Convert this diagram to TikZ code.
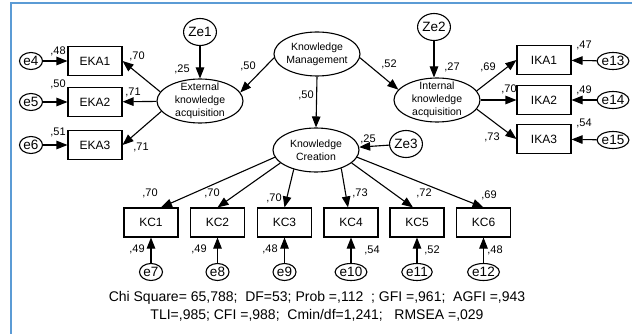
\documentclass[tikz,border=0pt]{standalone}
\usepackage{fontspec}
\setmainfont{Liberation Sans}
\usetikzlibrary{shapes.geometric,arrows.meta}
\definecolor{frameblue}{RGB}{91,155,213}
\tikzset{
  lat/.style={ellipse, draw, line width=1.1pt, minimum width=86pt, minimum height=44pt, inner sep=0pt},
  lattext/.style={align=center, inner sep=0pt, font=\fontsize{10.5}{13}\selectfont},
  obs/.style={rectangle, draw, line width=1.1pt, minimum width=54pt, minimum height=29pt, inner sep=0pt, font=\fontsize{12}{13}\selectfont},
  err/.style={ellipse, draw, line width=1.1pt, minimum width=23pt, minimum height=17pt, inner sep=0pt, font=\fontsize{13.5}{14}\selectfont},
  dist/.style={ellipse, draw, line width=1.1pt, minimum width=29pt, minimum height=27pt, inner sep=0pt, font=\fontsize{13.5}{14}\selectfont},
  lbl/.style={inner sep=0pt, font=\fontsize{11}{12}\selectfont},
  arr/.style={-{Triangle[length=11pt,width=8.5pt]}, line width=1.1pt},
}
\begin{document}
\begin{tikzpicture}[x=1pt,y=-1pt]
\useasboundingbox (0,0) rectangle (632,334);
\fill[white] (0,0) rectangle (632,334);
\draw[frameblue, line width=2pt] (10.5,334) -- (10.5,3.5) -- (632,3.5);

% latent variables
\node[lat, label={[lattext]center:Knowledge\\Management}] (km) at (317,54) {};
\node[lat, label={[lattext]center:External\\knowledge\\acquisition}] (ext) at (200,101) {};
\node[lat, label={[lattext]center:Internal\\knowledge\\acquisition}] (int) at (437,100) {};
\node[lat, label={[lattext]center:Knowledge\\Creation}] (kc) at (316,150) {};

% disturbances
\node[dist] (ze1) at (200,32) {Ze1};
\node[dist] (ze2) at (434,27) {Ze2};
\node[dist] (ze3) at (406,144) {Ze3};

% EKA
\node[obs] (eka1) at (95,61) {EKA1};
\node[obs] (eka2) at (95,102) {EKA2};
\node[obs] (eka3) at (95,145) {EKA3};
\node[err] (e4) at (31,61) {e4};
\node[err] (e5) at (31,102) {e5};
\node[err] (e6) at (31,145) {e6};

% IKA
\node[obs] (ika1) at (544,60) {IKA1};
\node[obs] (ika2) at (544,100) {IKA2};
\node[obs] (ika3) at (544,139) {IKA3};
\node[err] (e13) at (613,61) {e13};
\node[err] (e14) at (613,100) {e14};
\node[err] (e15) at (613,140) {e15};

% KC
\node[obs] (kc1) at (151,222.5) {KC1};
\node[obs] (kc2) at (217.5,222.5) {KC2};
\node[obs] (kc3) at (284.5,222.5) {KC3};
\node[obs] (kc4) at (351,222.5) {KC4};
\node[obs] (kc5) at (417,222.5) {KC5};
\node[obs] (kc6) at (483.5,222.5) {KC6};
\node[err] (e7) at (151,272) {e7};
\node[err] (e8) at (217.5,272) {e8};
\node[err] (e9) at (284.5,272) {e9};
\node[err] (e10) at (351,272) {e10};
\node[err] (e11) at (417,272) {e11};
\node[err] (e12) at (483.5,272) {e12};

% structural paths
\draw[arr] (km.185) -- (ext.12);
\draw[arr] (km.355) -- (int.165);
\draw[arr] (km.south) -- (kc.north);
\draw[arr] (ze1) -- (ext);
\draw[arr] (ze2) -- (ze2 |- int.north);
\draw[arr] (ze3) -- (kc);

% measurement paths
\draw[arr] (ext.167) -- (eka1.east);
\draw[arr] (ext) -- (eka2);
\draw[arr] (ext.195) -- (eka3.east);
\draw[arr] (e4) -- (eka1);
\draw[arr] (e5) -- (eka2);
\draw[arr] (e6) -- (eka3);

\draw[arr] (int.13) -- (ika1.west);
\draw[arr] (int) -- (ika2);
\draw[arr] (int.347) -- (ika3.west);
\draw[arr] (e13) -- (ika1);
\draw[arr] (e14) -- (ika2);
\draw[arr] (e15) -- (ika3);

\draw[arr] (kc.190) -- ([xshift=10pt]kc1.north);
\draw[arr] (kc.200) -- (kc2.north);
\draw[arr] (kc.221) -- (kc3.north);
\draw[arr] (kc.324) -- ([xshift=-3pt]kc4.north);
\draw[arr] (kc.340) -- ([xshift=-4pt]kc5.north);
\draw[arr] (kc.350) -- (kc6.north);
\draw[arr] (e7) -- (kc1);
\draw[arr] (e8) -- (kc2);
\draw[arr] (e9) -- (kc3);
\draw[arr] (e10) -- (kc4);
\draw[arr] (e11) -- (kc5);
\draw[arr] (e12) -- (kc6);

% coefficient labels
\node[lbl] (l48) at (58,51) {,48};
\node[lbl] (l50a) at (58,84) {,50};
\node[lbl] (l51) at (58,132) {,51};
\node[lbl] (l70a) at (137,56) {,70};
\node[lbl] (l71a) at (133,92) {,71};
\node[lbl] (l71b) at (141,147) {,71};
\node[lbl] (l25a) at (182,69) {,25};
\node[lbl] (l50b) at (248,66) {,50};
\node[lbl] (l50c) at (306,95) {,50};
\node[lbl] (l52) at (389,64) {,52};
\node[lbl] (l27) at (452,67) {,27};
\node[lbl] (l69a) at (488,67) {,69};
\node[lbl] (l70b) at (509,89) {,70};
\node[lbl] (l73a) at (492,137) {,73};
\node[lbl] (l47) at (584,45) {,47};
\node[lbl] (l49a) at (584,90) {,49};
\node[lbl] (l54a) at (584,123) {,54};
\node[lbl] (l25b) at (368,139) {,25};
\node[lbl] (l70c) at (150,193) {,70};
\node[lbl] (l70d) at (212,193) {,70};
\node[lbl] (l70e) at (274,198) {,70};
\node[lbl] (l73b) at (360,193) {,73};
\node[lbl] (l72) at (424,193) {,72};
\node[lbl] (l69b) at (489,195) {,69};
\node[lbl] (l49b) at (137,249) {,49};
\node[lbl] (l49c) at (199,249) {,49};
\node[lbl] (l48b) at (270,249) {,48};
\node[lbl] (l54b) at (372,250) {,54};
\node[lbl] (l52b) at (432,250) {,52};
\node[lbl] (l48c) at (495,250) {,48};

% fit statistics
\node[align=center, inner sep=0pt, font=\fontsize{14}{18}\selectfont] (fit) at (317,306)
  {Chi Square= 65,788;\ \ DF=53; Prob =,112\ \ ; GFI =,961;\ \ AGFI =,943\\
   TLI=,985; CFI =,988;\ \ Cmin/df=1,241;\ \ \ RMSEA =,029};
\end{tikzpicture}
\end{document}
